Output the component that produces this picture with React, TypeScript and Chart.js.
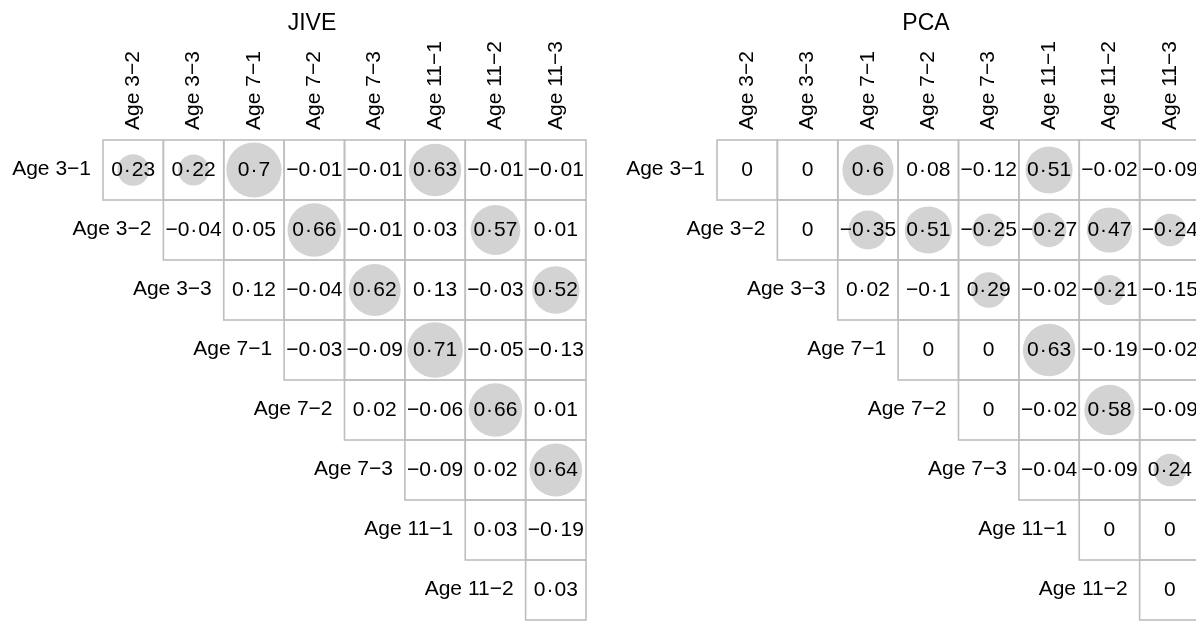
import { useEffect, useRef } from "react";
import { Chart, registerables } from "chart.js";

Chart.register(...registerables);

// ---- data ----
const colLabels = ["Age 3−2", "Age 3−3", "Age 7−1", "Age 7−2", "Age 7−3", "Age 11−1", "Age 11−2", "Age 11−3"];
const rowLabels = ["Age 3−1", "Age 3−2", "Age 3−3", "Age 7−1", "Age 7−2", "Age 7−3", "Age 11−1", "Age 11−2"];

// upper-triangular rows: row i lists columns i..7
const jiveValues: number[][] = [
  [0.23, 0.22, 0.7, -0.01, -0.01, 0.63, -0.01, -0.01],
  [-0.04, 0.05, 0.66, -0.01, 0.03, 0.57, 0.01],
  [0.12, -0.04, 0.62, 0.13, -0.03, 0.52],
  [-0.03, -0.09, 0.71, -0.05, -0.13],
  [0.02, -0.06, 0.66, 0.01],
  [-0.09, 0.02, 0.64],
  [0.03, -0.19],
  [0.03],
];

const pcaValues: number[][] = [
  [0, 0, 0.6, 0.08, -0.12, 0.51, -0.02, -0.09],
  [0, -0.35, 0.51, -0.25, -0.27, 0.47, -0.24],
  [0.02, -0.1, 0.29, -0.02, -0.21, -0.15],
  [0, 0, 0.63, -0.19, -0.02],
  [0, -0.02, 0.58, -0.09],
  [-0.04, -0.09, 0.24],
  [0, 0],
  [0],
];

const panelTitles = ["JIVE", "PCA"];

// ---- styles ----
const FONT = '"Liberation Sans", Arial, Helvetica, sans-serif';
const LABEL_SIZE = 21;
const VALUE_SIZE = 21;
const TITLE_SIZE = 23;
const CIRCLE_COLOR = "#d3d3d3";
const GRID_COLOR = "#bebebe";
const SHOW_THRESHOLD = 0.2;
const DOT_GAP = 1;

function fmt(v: number): string {
  if (v === 0) return "0";
  return String(v).replace("-", "−").replace(".", "·");
}

function drawValue(ctx: CanvasRenderingContext2D, text: string, cx: number, cy: number) {
  const idx = text.indexOf("·");
  if (idx < 0) {
    ctx.textAlign = "center";
    ctx.fillText(text, cx, cy);
    return;
  }
  const a = text.slice(0, idx);
  const b = text.slice(idx + 1);
  const wa = ctx.measureText(a).width;
  const wd = ctx.measureText("·").width;
  const wb = ctx.measureText(b).width;
  const total = wa + wd + wb + 2 * DOT_GAP;
  let x = cx - total / 2;
  ctx.textAlign = "left";
  ctx.fillText(a, x, cy);
  x += wa + DOT_GAP;
  ctx.fillText("·", x, cy);
  x += wd + DOT_GAP;
  ctx.fillText(b, x, cy);
}

const matrixPlugin = {
  id: "matrixPlugin",
  beforeDatasetsDraw(chart: any, _args: any, opts: any) {
    const { ctx } = chart;
    const xs = chart.scales.x;
    const ys = chart.scales.y;
    const cw = xs.getPixelForValue(1) - xs.getPixelForValue(0);
    const ch = ys.getPixelForValue(1) - ys.getPixelForValue(0);
    const values: number[][] = opts.values;
    ctx.save();
    ctx.strokeStyle = GRID_COLOR;
    ctx.lineWidth = 1.6;
    ctx.fillStyle = "#ffffff";
    values.forEach((row, i) => {
      row.forEach((_v, k) => {
        const xc = xs.getPixelForValue(i + k);
        const yc = ys.getPixelForValue(i);
        ctx.fillRect(xc - cw / 2, yc - ch / 2, cw, ch);
      });
    });
    values.forEach((row, i) => {
      row.forEach((_v, k) => {
        const xc = xs.getPixelForValue(i + k);
        const yc = ys.getPixelForValue(i);
        ctx.strokeRect(xc - cw / 2, yc - ch / 2, cw, ch);
      });
    });
    ctx.restore();
  },
  afterDatasetsDraw(chart: any, _args: any, opts: any) {
    const { ctx, chartArea } = chart;
    const xs = chart.scales.x;
    const ys = chart.scales.y;
    const cw = xs.getPixelForValue(1) - xs.getPixelForValue(0);
    const values: number[][] = opts.values;
    ctx.save();
    ctx.fillStyle = "#000000";
    // values
    ctx.font = `${VALUE_SIZE}px ${FONT}`;
    ctx.textBaseline = "middle";
    values.forEach((row, i) => {
      row.forEach((v, k) => {
        drawValue(ctx, fmt(v), xs.getPixelForValue(i + k), ys.getPixelForValue(i));
      });
    });
    // row labels
    ctx.font = `${LABEL_SIZE}px ${FONT}`;
    ctx.textAlign = "right";
    rowLabels.forEach((lab, i) => {
      const left = xs.getPixelForValue(i) - cw / 2;
      ctx.fillText(lab, left - 12, ys.getPixelForValue(i) - 1);
    });
    // column labels
    ctx.textAlign = "left";
    colLabels.forEach((lab, j) => {
      ctx.save();
      ctx.translate(xs.getPixelForValue(j), chartArea.top - 10);
      ctx.rotate(-Math.PI / 2);
      ctx.fillText(lab, 0, 0);
      ctx.restore();
    });
    // title
    ctx.font = `${TITLE_SIZE}px ${FONT}`;
    ctx.textAlign = "center";
    ctx.textBaseline = "alphabetic";
    ctx.fillText(opts.title, opts.titleX, 30);
    ctx.restore();
  },
};

function Panel({ title, values, left, width }: { title: string; values: number[][]; left: number; width: number }) {
  const ref = useRef<HTMLCanvasElement | null>(null);
  useEffect(() => {
    if (!ref.current) return;
    const points: { x: string; y: string; r: number }[] = [];
    values.forEach((row, i) => {
      row.forEach((v, k) => {
        if (Math.abs(v) >= SHOW_THRESHOLD) {
          points.push({ x: colLabels[i + k], y: rowLabels[i], r: 33 * Math.sqrt(Math.abs(v)) });
        }
      });
    });
    const chart = new Chart(ref.current, {
      type: "bubble",
      data: {
        datasets: [
          {
            data: points,
            backgroundColor: CIRCLE_COLOR,
            borderWidth: 0,
            hoverRadius: 0,
            clip: false,
          } as any,
        ],
      },
      options: {
        responsive: false,
        animation: false,
        events: [],
        devicePixelRatio: 1,
        layout: { autoPadding: false, padding: { left: 103, right: width - 586, top: 140, bottom: 2 } },
        scales: {
          x: { type: "category", labels: colLabels, offset: true, display: false },
          y: { type: "category", labels: rowLabels, offset: true, display: false },
        },
        plugins: {
          legend: { display: false },
          tooltip: { enabled: false },
          matrixPlugin: { values, title, titleX: 312 },
        } as any,
      } as any,
      plugins: [matrixPlugin],
    });
    return () => chart.destroy();
  }, [title, values, width]);
  return (
    <canvas
      ref={ref}
      width={width}
      height={622}
      style={{ position: "absolute", left, top: 0, width, height: 622 }}
    />
  );
}

export default function App() {
  return (
    <div
      style={{
        position: "fixed",
        left: 0,
        top: 0,
        width: 1196,
        height: 622,
        overflow: "hidden",
        background: "#ffffff",
      }}
    >
      <Panel title={panelTitles[0]} values={jiveValues} left={0} width={600} />
      <Panel title={panelTitles[1]} values={pcaValues} left={614} width={610} />
    </div>
  );
}
